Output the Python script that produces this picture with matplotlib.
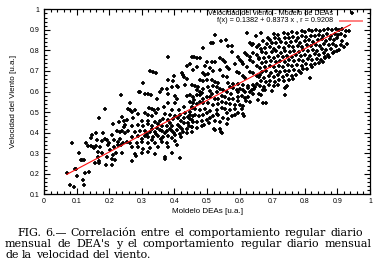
import matplotlib
matplotlib.use("Agg")
import matplotlib.pyplot as plt
from matplotlib.ticker import MultipleLocator

# puntos: (Modelo DEAs, Velocidad del viento)
puntos = [
    # x < 0.25
    (0.071, 0.205), (0.080, 0.145), (0.085, 0.352), (0.092, 0.137), (0.098, 0.221),
    (0.094, 0.222), (0.102, 0.189), (0.108, 0.302), (0.112, 0.265), (0.118, 0.267),
    (0.121, 0.170), (0.123, 0.145), (0.126, 0.205), (0.122, 0.265), (0.129, 0.348),
    (0.136, 0.335), (0.139, 0.210), (0.143, 0.372), (0.146, 0.388), (0.144, 0.335),
    (0.150, 0.330), (0.153, 0.323), (0.156, 0.250), (0.160, 0.396), (0.162, 0.364),
    (0.167, 0.307), (0.170, 0.469), (0.170, 0.250), (0.172, 0.328), (0.177, 0.360),
    (0.177, 0.302), (0.180, 0.400), (0.187, 0.513), (0.187, 0.367), (0.190, 0.242),
    (0.192, 0.364), (0.192, 0.283), (0.165, 0.280), (0.168, 0.262), (0.158, 0.335),
    (0.195, 0.340), (0.202, 0.315), (0.208, 0.388), (0.208, 0.270), (0.210, 0.242),
    (0.213, 0.440), (0.215, 0.364), (0.218, 0.267), (0.222, 0.300), (0.225, 0.409),
    (0.228, 0.340), (0.231, 0.453), (0.233, 0.367), (0.235, 0.582), (0.238, 0.477),
    (0.243, 0.348), (0.245, 0.458), (0.240, 0.410), (0.248, 0.400), (0.232, 0.405),
    (0.245, 0.425), (0.226, 0.355), (0.215, 0.330), (0.240, 0.300), (0.212, 0.290),
    (0.236, 0.340), (0.200, 0.350),
    # 0.25 - 0.46
    (0.438, 0.723), (0.325, 0.700), (0.334, 0.695), (0.343, 0.690), (0.400, 0.675),
    (0.427, 0.680), (0.430, 0.670), (0.379, 0.655), (0.440, 0.660), (0.432, 0.630),
    (0.412, 0.623), (0.361, 0.610), (0.376, 0.610), (0.291, 0.598), (0.381, 0.590),
    (0.310, 0.590), (0.320, 0.590), (0.328, 0.585), (0.356, 0.598), (0.402, 0.580),
    (0.440, 0.580), (0.407, 0.565), (0.460, 0.560), (0.346, 0.565), (0.381, 0.545),
    (0.402, 0.545), (0.430, 0.525), (0.453, 0.525), (0.264, 0.542), (0.259, 0.517),
    (0.263, 0.510), (0.322, 0.520), (0.330, 0.515), (0.338, 0.510), (0.351, 0.517),
    (0.369, 0.525), (0.392, 0.510), (0.414, 0.510), (0.269, 0.501), (0.289, 0.490),
    (0.310, 0.495), (0.320, 0.485), (0.330, 0.480), (0.345, 0.495), (0.371, 0.492),
    (0.386, 0.488), (0.402, 0.482), (0.417, 0.488), (0.432, 0.495), (0.447, 0.500),
    (0.303, 0.640), (0.380, 0.770), (0.395, 0.650), (0.448, 0.735), (0.422, 0.690),
    (0.407, 0.625), (0.392, 0.620), (0.294, 0.600), (0.279, 0.510),
    (0.254, 0.462), (0.274, 0.470), (0.300, 0.458), (0.320, 0.455), (0.340, 0.450),
    (0.356, 0.455), (0.366, 0.468), (0.381, 0.462), (0.397, 0.465), (0.412, 0.470),
    (0.428, 0.472), (0.443, 0.478), (0.458, 0.480),
    (0.248, 0.437), (0.269, 0.433), (0.289, 0.437), (0.305, 0.430), (0.330, 0.430),
    (0.346, 0.422), (0.361, 0.430), (0.376, 0.433), (0.392, 0.433), (0.412, 0.437),
    (0.428, 0.445), (0.443, 0.448), (0.458, 0.453),
    (0.259, 0.409), (0.279, 0.404), (0.294, 0.409), (0.310, 0.409), (0.325, 0.404),
    (0.340, 0.404), (0.361, 0.409), (0.376, 0.409), (0.392, 0.409), (0.407, 0.412),
    (0.422, 0.420), (0.438, 0.420), (0.453, 0.428),
    (0.269, 0.380), (0.289, 0.383), (0.310, 0.383), (0.320, 0.377), (0.335, 0.380),
    (0.351, 0.383), (0.366, 0.377), (0.381, 0.383), (0.402, 0.388), (0.417, 0.393),
    (0.438, 0.396), (0.453, 0.404),
    (0.254, 0.355), (0.264, 0.348), (0.284, 0.351), (0.300, 0.355), (0.320, 0.348),
    (0.340, 0.351), (0.361, 0.355), (0.376, 0.348), (0.402, 0.360),
    (0.269, 0.328), (0.289, 0.328), (0.305, 0.318), (0.325, 0.323), (0.351, 0.328),
    (0.381, 0.328), (0.407, 0.340),
    (0.279, 0.296), (0.300, 0.299), (0.320, 0.307), (0.340, 0.296), (0.371, 0.283),
    (0.392, 0.299), (0.417, 0.275), (0.371, 0.270), (0.270, 0.260), (0.282, 0.285),
    (0.315, 0.395), (0.345, 0.392), (0.372, 0.396), (0.398, 0.398), (0.425, 0.405),
    (0.330, 0.418), (0.355, 0.415), (0.385, 0.420), (0.418, 0.428), (0.445, 0.432),
    (0.318, 0.442), (0.350, 0.440), (0.388, 0.447), (0.420, 0.455), (0.448, 0.465),
    (0.360, 0.368), (0.392, 0.372), (0.420, 0.380), (0.300, 0.370), (0.330, 0.365),
    # 0.45 - 0.66
    (0.624, 0.885), (0.650, 0.869), (0.525, 0.874), (0.558, 0.850), (0.512, 0.836),
    (0.518, 0.836), (0.542, 0.846), (0.565, 0.820), (0.576, 0.820), (0.632, 0.835),
    (0.637, 0.825), (0.642, 0.830), (0.652, 0.815), (0.489, 0.810), (0.576, 0.793),
    (0.617, 0.786), (0.622, 0.776), (0.632, 0.770), (0.642, 0.786), (0.652, 0.776),
    (0.660, 0.765), (0.453, 0.768), (0.460, 0.768), (0.468, 0.765), (0.479, 0.762),
    (0.540, 0.765), (0.596, 0.768), (0.601, 0.755), (0.606, 0.744), (0.611, 0.736),
    (0.499, 0.744), (0.514, 0.744), (0.525, 0.744), (0.550, 0.752), (0.555, 0.744),
    (0.586, 0.736), (0.632, 0.752), (0.642, 0.744), (0.468, 0.720), (0.494, 0.723),
    (0.509, 0.715), (0.560, 0.720), (0.568, 0.712), (0.622, 0.717), (0.652, 0.723),
    (0.456, 0.704), (0.519, 0.700), (0.540, 0.704), (0.591, 0.696), (0.599, 0.691),
    (0.632, 0.696), (0.642, 0.688), (0.489, 0.688), (0.494, 0.680), (0.504, 0.684),
    (0.550, 0.675), (0.560, 0.672), (0.611, 0.675), (0.617, 0.667), (0.652, 0.675),
    (0.662, 0.680),
    (0.479, 0.655), (0.488, 0.650), (0.499, 0.655), (0.514, 0.655), (0.524, 0.647),
    (0.535, 0.642), (0.565, 0.642), (0.580, 0.636), (0.596, 0.639), (0.453, 0.631),
    (0.463, 0.626), (0.473, 0.620), (0.504, 0.620), (0.519, 0.626), (0.530, 0.620),
    (0.611, 0.631), (0.627, 0.626), (0.642, 0.631), (0.652, 0.639), (0.550, 0.607),
    (0.560, 0.600), (0.591, 0.607), (0.601, 0.612), (0.617, 0.597), (0.632, 0.600),
    (0.642, 0.590), (0.645, 0.612),
    (0.468, 0.607), (0.479, 0.600), (0.489, 0.612), (0.509, 0.604), (0.530, 0.600),
    (0.540, 0.612), (0.571, 0.620), (0.581, 0.615), (0.596, 0.600), (0.611, 0.607),
    (0.627, 0.615), (0.637, 0.607), (0.647, 0.622),
    (0.448, 0.582), (0.458, 0.575), (0.468, 0.582), (0.479, 0.582), (0.489, 0.566),
    (0.499, 0.575), (0.509, 0.575), (0.525, 0.566), (0.535, 0.562), (0.545, 0.580),
    (0.555, 0.575), (0.566, 0.566), (0.581, 0.566), (0.596, 0.575), (0.607, 0.580),
    (0.617, 0.570), (0.627, 0.575), (0.632, 0.550),
    (0.448, 0.550), (0.458, 0.545), (0.468, 0.538), (0.479, 0.550), (0.489, 0.542),
    (0.504, 0.545), (0.519, 0.534), (0.535, 0.538), (0.545, 0.550), (0.559, 0.545),
    (0.571, 0.538), (0.586, 0.534), (0.601, 0.534), (0.611, 0.530),
    (0.453, 0.518), (0.463, 0.513), (0.479, 0.510), (0.494, 0.513), (0.509, 0.505),
    (0.530, 0.510), (0.545, 0.518), (0.555, 0.513), (0.571, 0.510), (0.586, 0.513),
    (0.607, 0.513),
    (0.448, 0.485), (0.463, 0.485), (0.474, 0.480), (0.489, 0.485), (0.509, 0.472),
    (0.519, 0.480), (0.535, 0.485), (0.550, 0.472), (0.576, 0.480), (0.586, 0.485),
    (0.453, 0.461), (0.468, 0.453), (0.484, 0.456), (0.499, 0.461), (0.525, 0.456),
    (0.540, 0.453), (0.453, 0.425), (0.468, 0.422), (0.484, 0.431), (0.525, 0.412),
    (0.540, 0.420), (0.545, 0.398), (0.520, 0.420), (0.543, 0.405),
    (0.610, 0.490), (0.615, 0.480), (0.595, 0.495), (0.560, 0.495), (0.530, 0.492),
    (0.500, 0.495), (0.565, 0.465), (0.505, 0.445), (0.490, 0.435), (0.560, 0.440),
    (0.620, 0.555), (0.595, 0.552), (0.575, 0.590), (0.515, 0.590), (0.485, 0.595),
    # 0.65 - 0.94
    (0.667, 0.885), (0.688, 0.860), (0.705, 0.880), (0.718, 0.875), (0.735, 0.885),
    (0.748, 0.880), (0.760, 0.890), (0.775, 0.885), (0.790, 0.895), (0.800, 0.890),
    (0.812, 0.900), (0.822, 0.895), (0.835, 0.900), (0.848, 0.895), (0.860, 0.900),
    (0.872, 0.905), (0.884, 0.900), (0.895, 0.905), (0.905, 0.900), (0.915, 0.905),
    (0.925, 0.895), (0.935, 0.893),
    (0.672, 0.845), (0.693, 0.850), (0.710, 0.860), (0.722, 0.855), (0.738, 0.862),
    (0.752, 0.858), (0.765, 0.865), (0.778, 0.860), (0.792, 0.868), (0.805, 0.865),
    (0.818, 0.872), (0.830, 0.868), (0.843, 0.875), (0.856, 0.870), (0.868, 0.878),
    (0.880, 0.872), (0.892, 0.880), (0.902, 0.875), (0.912, 0.882), (0.922, 0.870),
    (0.660, 0.825), (0.683, 0.830), (0.698, 0.835), (0.712, 0.838), (0.728, 0.842),
    (0.742, 0.835), (0.758, 0.840), (0.772, 0.845), (0.786, 0.838), (0.800, 0.845),
    (0.814, 0.850), (0.826, 0.842), (0.840, 0.850), (0.852, 0.855), (0.865, 0.848),
    (0.878, 0.855), (0.890, 0.850), (0.900, 0.858), (0.915, 0.848), (0.928, 0.830),
    (0.665, 0.805), (0.678, 0.810), (0.692, 0.815), (0.705, 0.808), (0.720, 0.818),
    (0.735, 0.812), (0.750, 0.820), (0.764, 0.815), (0.778, 0.822), (0.792, 0.815),
    (0.806, 0.825), (0.820, 0.820), (0.833, 0.828), (0.846, 0.822), (0.860, 0.830),
    (0.874, 0.825), (0.886, 0.832), (0.896, 0.820), (0.910, 0.825), (0.920, 0.815),
    (0.668, 0.790), (0.682, 0.785), (0.698, 0.790), (0.712, 0.795), (0.726, 0.788),
    (0.740, 0.795), (0.754, 0.790), (0.768, 0.798), (0.782, 0.792), (0.796, 0.800),
    (0.810, 0.795), (0.824, 0.802), (0.838, 0.798), (0.852, 0.805), (0.866, 0.800),
    (0.880, 0.808), (0.890, 0.790), (0.905, 0.800), (0.898, 0.795),
    (0.660, 0.760), (0.675, 0.765), (0.690, 0.770), (0.704, 0.765), (0.718, 0.772),
    (0.732, 0.768), (0.746, 0.775), (0.760, 0.770), (0.774, 0.778), (0.788, 0.772),
    (0.802, 0.780), (0.816, 0.775), (0.830, 0.782), (0.845, 0.778), (0.858, 0.785),
    (0.862, 0.770), (0.872, 0.780), (0.885, 0.788),
    (0.668, 0.740), (0.682, 0.745), (0.697, 0.750), (0.711, 0.742), (0.725, 0.750),
    (0.739, 0.745), (0.753, 0.752), (0.767, 0.748), (0.781, 0.755), (0.795, 0.750),
    (0.809, 0.758), (0.823, 0.752), (0.837, 0.760), (0.850, 0.755), (0.862, 0.762),
    (0.875, 0.770),
    (0.663, 0.715), (0.677, 0.720), (0.692, 0.725), (0.706, 0.718), (0.720, 0.725),
    (0.734, 0.720), (0.748, 0.728), (0.762, 0.722), (0.776, 0.730), (0.790, 0.725),
    (0.804, 0.732), (0.818, 0.728), (0.832, 0.735), (0.845, 0.740), (0.855, 0.745),
    (0.668, 0.695), (0.682, 0.700), (0.697, 0.692), (0.711, 0.700), (0.725, 0.695),
    (0.739, 0.702), (0.753, 0.698), (0.767, 0.705), (0.781, 0.700), (0.795, 0.708),
    (0.808, 0.712), (0.822, 0.718),
    (0.660, 0.672), (0.675, 0.668), (0.690, 0.675), (0.704, 0.670), (0.718, 0.678),
    (0.732, 0.672), (0.746, 0.680), (0.760, 0.675), (0.774, 0.682), (0.788, 0.690),
    (0.816, 0.668),
    (0.665, 0.650), (0.680, 0.645), (0.694, 0.652), (0.708, 0.648), (0.722, 0.655),
    (0.736, 0.650), (0.750, 0.658), (0.764, 0.662),
    (0.662, 0.628), (0.676, 0.622), (0.690, 0.630), (0.704, 0.625), (0.718, 0.632),
    (0.740, 0.615), (0.742, 0.622), (0.745, 0.627),
    (0.673, 0.605), (0.678, 0.607), (0.699, 0.604), (0.740, 0.585), (0.660, 0.590),
    (0.673, 0.545), (0.680, 0.545), (0.655, 0.560), (0.665, 0.585),
]

a, b, r = 0.1382, 0.8373, 0.9208   # f(x) = a + b x
x_ajuste = [0.07, 0.94]

xs = [p[0] for p in puntos]
ys = [p[1] for p in puntos]

W, H = 383, 271
fig = plt.figure(figsize=(W / 100, H / 100), dpi=100)
ax = fig.add_axes([44 / W, 1 - 194.3 / H, 326 / W, 185 / H])

sans = "Liberation Sans"
ax.plot(xs, ys, "+", color="black", ms=3.5, mew=1.25, zorder=2)
ax.plot(x_ajuste, [a + b * x for x in x_ajuste], color="#ff1010", lw=0.8, zorder=3)

ax.set_xlim(0, 1)
ax.set_ylim(0.1, 1)
ax.xaxis.set_minor_locator(MultipleLocator(0.02))
ax.yaxis.set_minor_locator(MultipleLocator(0.02))
ax.tick_params(which="both", direction="in", top=True, right=True, width=0.8,
               labelsize=5, pad=3)
ax.tick_params(which="major", length=4)
ax.tick_params(which="minor", length=2)
ax.set_xticks([0, 0.1, 0.2, 0.3, 0.4, 0.5, 0.6, 0.7, 0.8, 0.9, 1])
ax.set_xticklabels(["0", "0.1", "0.2", "0.3", "0.4", "0.5", "0.6", "0.7", "0.8", "0.9", "1"],
                   fontfamily=sans)
ax.set_yticks([0.1, 0.2, 0.3, 0.4, 0.5, 0.6, 0.7, 0.8, 0.9, 1])
ax.set_yticklabels(["0.1", "0.2", "0.3", "0.4", "0.5", "0.6", "0.7", "0.8", "0.9", "1"],
                   fontfamily=sans)
for s in ax.spines.values():
    s.set_linewidth(0.9)

ax.set_xlabel("Moldelo DEAs [u.a.]", fontsize=5.8, family=sans, labelpad=2)
ax.set_ylabel("Velocidad del Viento [u.a.]", fontsize=5.8, family=sans, labelpad=9)

# leyenda estilo gnuplot (texto alineado a la derecha)
ax.text(0.887, 0.978, "Velocidad del viento - Modelo de DEAs", transform=ax.transAxes,
        ha="right", va="center", fontsize=5.2, family=sans)
ax.text(0.887, 0.938, "f(x) = %.4f + %.4f x , r = %.4f" % (a, b, r), transform=ax.transAxes,
        ha="right", va="center", fontsize=5.2, family=sans)
ax.plot([0.945], [0.978], "+", color="black", ms=3.5, mew=1.25, transform=ax.transAxes,
        clip_on=False)
ax.plot([0.908, 0.975], [0.938, 0.938], color="#ff8080", lw=1.4, transform=ax.transAxes,
        clip_on=False)

# pie de figura justificado
serif = "DejaVu Serif"
fs_pie = 7.9
renderer = fig.canvas.get_renderer()


def linea(texto, x0, x1, y, justificar=True):
    palabras = texto.split(" ")
    objs = [fig.text(0, 1 - y / H, w, fontsize=fs_pie, family=serif, va="baseline")
            for w in palabras]
    anchos = [o.get_window_extent(renderer).width for o in objs]
    if justificar:
        hueco = (x1 - x0 - sum(anchos)) / (len(palabras) - 1)
    else:
        hueco = 0.32 * fs_pie * 100 / 72
    x = x0
    for o, w in zip(objs, anchos):
        o.set_x(x / W)
        x += w + hueco


linea("FIG. 6.\u2014 Correlación entre el comportamiento regular diario", 17, 363, 236)
linea("mensual de DEA's y el comportamiento regular diario mensual", 5, 372, 247)
linea("de la velocidad del viento.", 5, 372, 257.5, justificar=False)

fig.savefig("out.png", dpi=100)
